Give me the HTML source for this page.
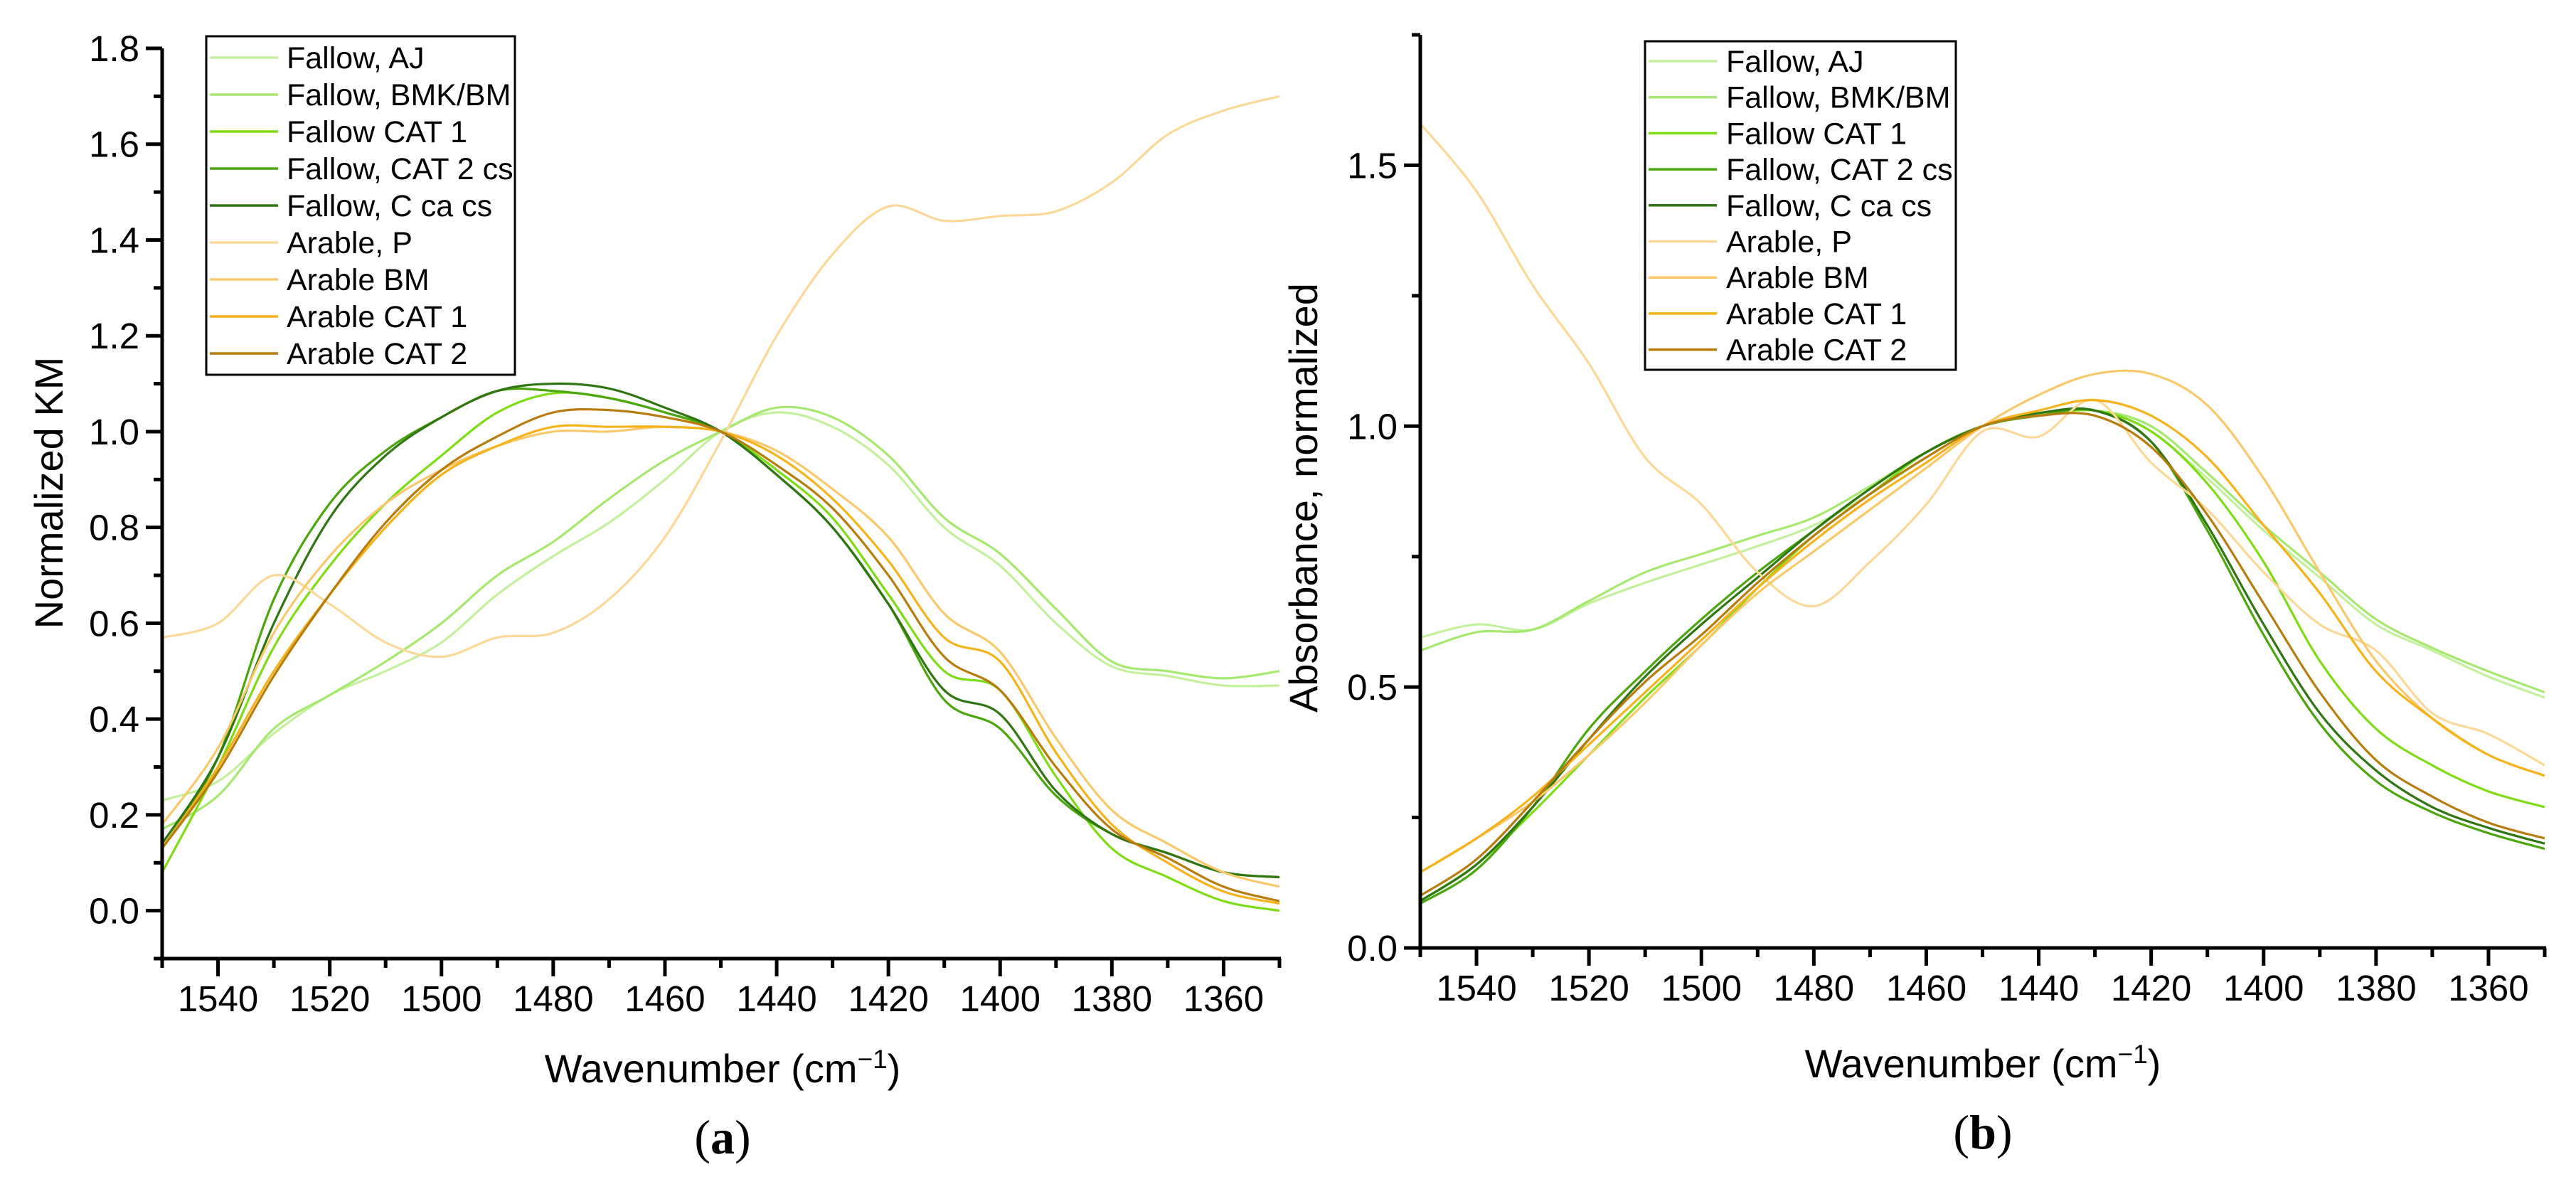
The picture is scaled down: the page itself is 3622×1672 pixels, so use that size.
<!DOCTYPE html>
<html><head><meta charset="utf-8"><style>
html,body{margin:0;padding:0;background:#fff;}
svg{display:block;font-family:"Liberation Sans",sans-serif;}
</style></head><body>
<svg id="fig" width="3622" height="1672" viewBox="0 0 3622 1672" xmlns="http://www.w3.org/2000/svg">
<rect width="3622" height="1672" fill="#fff"/>
<g id="pa"></g>
<g id="pb"></g>
</svg>
<script>
const wavenumbers=[1550,1540,1530,1520,1510,1500,1490,1480,1470,1460,1450,1440,1430,1420,1410,1400,1390,1380,1370,1360,1350];
const seriesNames=["Fallow, AJ","Fallow, BMK/BM","Fallow CAT 1","Fallow, CAT 2 cs","Fallow, C ca cs","Arable, P","Arable BM","Arable CAT 1","Arable CAT 2"];
const seriesColors=["#c3f09c","#a5e86e","#7ddc13","#4aa60c","#2f7612","#fbd898","#f9c86a","#f5b21b","#b87c0c"];
const aAJ=[0.23,0.27,0.37,0.45,0.50,0.56,0.66,0.74,0.81,0.90,1.00,1.04,1.01,0.93,0.80,0.72,0.60,0.51,0.49,0.47,0.47];
const aBMK=[0.17,0.24,0.38,0.45,0.52,0.60,0.70,0.77,0.86,0.94,1.00,1.05,1.03,0.95,0.82,0.745,0.63,0.52,0.50,0.485,0.50];
const aFC1=[0.08,0.30,0.55,0.72,0.85,0.95,1.04,1.08,1.07,1.04,1.0,0.92,0.82,0.66,0.50,0.46,0.28,0.13,0.07,0.02,0.0];
const aFC2=[0.13,0.32,0.65,0.85,0.96,1.03,1.085,1.085,1.07,1.04,1.0,0.91,0.80,0.64,0.44,0.38,0.24,0.16,0.12,0.08,0.07];
const aCca=[0.14,0.32,0.60,0.82,0.95,1.03,1.085,1.10,1.09,1.05,1.0,0.91,0.80,0.64,0.46,0.41,0.25,0.16,0.12,0.08,0.07];
const aAP=[0.57,0.60,0.70,0.64,0.56,0.53,0.57,0.58,0.65,0.78,0.98,1.20,1.37,1.47,1.44,1.45,1.46,1.52,1.62,1.67,1.70];
const aABM=[0.18,0.34,0.58,0.74,0.85,0.92,0.97,1.0,1.0,1.01,1.0,0.96,0.88,0.78,0.62,0.54,0.36,0.21,0.14,0.08,0.05];
const aAC1=[0.13,0.30,0.50,0.66,0.80,0.91,0.97,1.01,1.01,1.01,1.0,0.95,0.86,0.73,0.57,0.52,0.33,0.18,0.10,0.04,0.015];
const aAC2=[0.13,0.29,0.49,0.66,0.81,0.92,0.99,1.04,1.045,1.03,1.0,0.93,0.84,0.70,0.53,0.46,0.30,0.17,0.11,0.05,0.02];
const bAJ=[0.595,0.62,0.61,0.66,0.70,0.735,0.77,0.81,0.87,0.94,1.0,1.02,1.03,0.99,0.90,0.80,0.71,0.62,0.57,0.52,0.48];
const bBMK=[0.57,0.605,0.61,0.665,0.72,0.755,0.79,0.825,0.885,0.95,1.0,1.02,1.03,1.0,0.91,0.81,0.72,0.63,0.575,0.53,0.49];
const bFC1=[0.09,0.16,0.26,0.37,0.48,0.58,0.69,0.79,0.87,0.95,1.0,1.02,1.03,0.99,0.89,0.74,0.55,0.42,0.35,0.30,0.27];
const bFC2=[0.085,0.15,0.27,0.42,0.53,0.63,0.72,0.80,0.88,0.95,1.0,1.02,1.03,0.97,0.80,0.60,0.43,0.32,0.26,0.22,0.19];
const bCca=[0.09,0.16,0.27,0.40,0.52,0.62,0.71,0.80,0.88,0.95,1.0,1.025,1.03,0.97,0.81,0.62,0.45,0.34,0.27,0.23,0.20];
const bAP=[1.58,1.45,1.27,1.12,0.94,0.85,0.72,0.655,0.74,0.85,0.99,0.98,1.05,0.93,0.84,0.72,0.62,0.57,0.45,0.41,0.35];
const bABM=[0.145,0.21,0.28,0.37,0.47,0.58,0.68,0.76,0.84,0.92,1.0,1.06,1.10,1.10,1.04,0.90,0.72,0.55,0.44,0.37,0.33];
const bAC1=[0.145,0.21,0.29,0.39,0.49,0.59,0.69,0.78,0.86,0.93,1.0,1.03,1.05,1.02,0.94,0.81,0.68,0.53,0.44,0.37,0.33];
const bAC2=[0.10,0.17,0.28,0.40,0.51,0.60,0.70,0.79,0.87,0.94,1.0,1.02,1.02,0.96,0.83,0.66,0.49,0.36,0.29,0.24,0.21];
const xTickLabels=[1540,1520,1500,1480,1460,1440,1420,1400,1380,1360];
const aYTickLabels=["0.0","0.2","0.4","0.6","0.8","1.0","1.2","1.4","1.6","1.8"];
const bYTickLabels=["0.0","0.5","1.0","1.5"];

const NS="http://www.w3.org/2000/svg";
function mk(parent,tag,attrs,text){const e=document.createElementNS(NS,tag);for(const k in attrs)e.setAttribute(k,attrs[k]);if(text!==undefined)e.textContent=text;parent.appendChild(e);return e;}
function smooth(pts){let d="M"+pts[0][0].toFixed(1)+","+pts[0][1].toFixed(1);
 for(let i=0;i<pts.length-1;i++){const p0=pts[Math.max(0,i-1)],p1=pts[i],p2=pts[i+1],p3=pts[Math.min(pts.length-1,i+2)];
 const c1=[p1[0]+(p2[0]-p0[0])/6,p1[1]+(p2[1]-p0[1])/6],c2=[p2[0]-(p3[0]-p1[0])/6,p2[1]-(p3[1]-p1[1])/6];
 d+=" C"+c1[0].toFixed(1)+","+c1[1].toFixed(1)+" "+c2[0].toFixed(1)+","+c2[1].toFixed(1)+" "+p2[0].toFixed(1)+","+p2[1].toFixed(1);}return d;}

function panel(g,cfg){
 const X=w=>cfg.x0+(1550-w)*(cfg.x1-cfg.x0)/200;
 const Y=v=>cfg.y0-(v-cfg.vmin)*(cfg.y0-cfg.ytop)/(cfg.vmax-cfg.vmin);
 const clip=mk(g,"clipPath",{id:cfg.id+"clip"});mk(clip,"rect",{x:cfg.x0,y:cfg.ytop-60,width:cfg.x1-cfg.x0,height:cfg.y0-cfg.ytop+60});
 const lg=mk(g,"g",{"clip-path":"url(#"+cfg.id+"clip)"});
 cfg.data.forEach((arr,i)=>{const p=mk(lg,"path",{d:smooth(wavenumbers.map((w,j)=>[X(w),Y(arr[j])])),fill:"none",stroke:seriesColors[i],"stroke-width":3.2,"stroke-linejoin":"round"});
  
  });
 mk(g,"line",{x1:cfg.x0,y1:cfg.ytop,x2:cfg.x0,y2:cfg.y0+2,stroke:"#000","stroke-width":5});
 mk(g,"line",{x1:cfg.x0-2,y1:cfg.y0,x2:cfg.x1+2,y2:cfg.y0,stroke:"#000","stroke-width":5});
 for(let w=1550;w>=1350;w-=10){const major=(w%20===0);mk(g,"line",{x1:X(w),y1:cfg.y0,x2:X(w),y2:cfg.y0+(major?25:13),stroke:"#000","stroke-width":5});}
 xTickLabels.forEach(w=>{const t=mk(g,"text",{x:X(w),y:cfg.y0+74,"font-size":51,"text-anchor":"middle"},String(w));
  });
 for(let v=cfg.vmin;v<=cfg.vmax+1e-9;v+=cfg.minor){const major=Math.abs(v/cfg.major-Math.round(v/cfg.major))<1e-6;
  mk(g,"line",{x1:cfg.x0-(major?23:12),y1:Y(v),x2:cfg.x0,y2:Y(v),stroke:"#000","stroke-width":5});}
 cfg.ylabels.forEach(s=>{const t=mk(g,"text",{x:cfg.x0-32,y:Y(parseFloat(s))+18,"font-size":51,"text-anchor":"end"},s);
  });
 const yt=mk(g,"text",{x:0,y:0,"font-size":56,"text-anchor":"middle",transform:"translate("+cfg.ytx+","+cfg.yty+") rotate(-90)"},cfg.ytitle);
 
 const xt=mk(g,"text",{x:cfg.xtx,y:cfg.xty,"font-size":56,"text-anchor":"middle"});
 
 xt.appendChild(document.createTextNode("Wavenumber (cm"));mk(xt,"tspan",{dy:-20,"font-size":37},"\u22121");mk(xt,"tspan",{dy:20},")");
 const pl=mk(g,"text",{x:cfg.xtx,y:cfg.xty+100,"font-size":68,"text-anchor":"middle","font-family":"Liberation Serif, serif"});
 
 pl.appendChild(document.createTextNode("("));mk(pl,"tspan",{"font-weight":"bold"},cfg.letter);pl.appendChild(document.createTextNode(")"));
 const L=cfg.leg;const lb=mk(g,"g",{});
 mk(lb,"rect",{x:L.x,y:L.y,width:L.w,height:L.h,fill:"#fff",stroke:"#000","stroke-width":3});
 seriesNames.forEach((n,i)=>{const yy=L.r0+i*L.dy;const e=mk(lb,"g",{});
  mk(e,"line",{x1:L.x+5,y1:yy,x2:L.x+101,y2:yy,stroke:seriesColors[i],"stroke-width":3.5});
  mk(e,"text",{x:L.tx,y:yy+15,"font-size":43},n);});
}
panel(document.getElementById("pa"),{id:"a",x0:228,x1:1799,y0:1348,ytop:68,vmin:-0.1,vmax:1.8,minor:0.1,major:0.2,ylabels:aYTickLabels,
 data:[aAJ,aBMK,aFC1,aFC2,aCca,aAP,aABM,aAC1,aAC2],ytitle:"Normalized KM",ytx:88,yty:693,xtx:1016,xty:1522,letter:"a",
 leg:{x:290,y:51,w:434,h:476,r0:81,dy:52,tx:403}});
panel(document.getElementById("pb"),{id:"b",x0:1997,x1:3578,y0:1333,ytop:49,vmin:0,vmax:1.75,minor:0.25,major:0.5,ylabels:bYTickLabels,
 data:[bAJ,bBMK,bFC1,bFC2,bCca,bAP,bABM,bAC1,bAC2],ytitle:"Absorbance, normalized",ytx:1852,yty:700,xtx:2788,xty:1515,letter:"b",
 leg:{x:2313,y:58,w:437,h:462,r0:86,dy:50.7,tx:2427}});
</script>
</body></html>
